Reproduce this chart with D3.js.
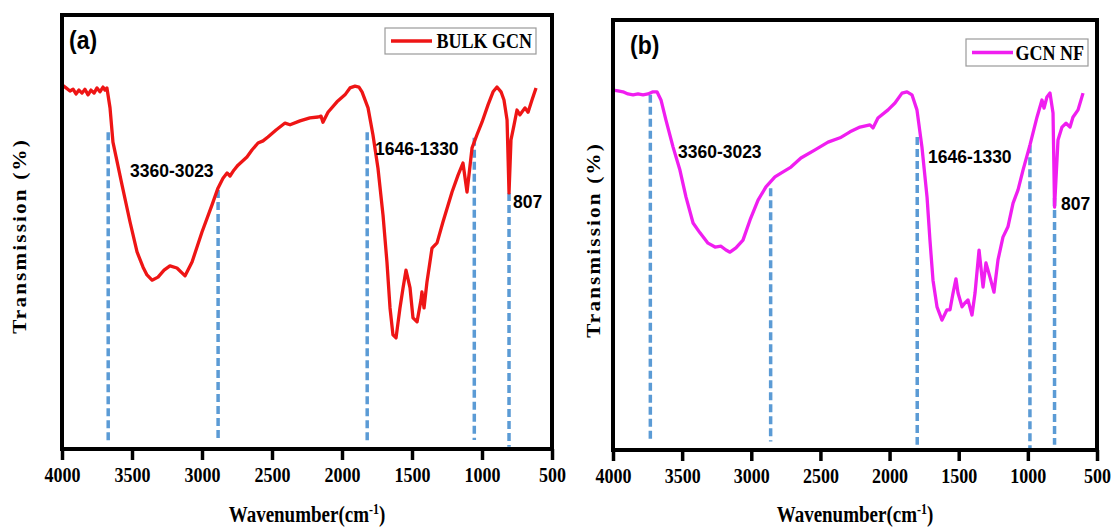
<!DOCTYPE html>
<html>
<head>
<meta charset="utf-8">
<script src="https://cdn.jsdelivr.net/npm/d3@7"></script>
<style>
  html, body { margin: 0; padding: 0; background: #fff; }
  svg { display: block; }
</style>
</head>
<body>
<svg id="chart" width="1111" height="530"></svg>
<script>
// FTIR spectra: wavenumber (cm^-1) vs. transmission (arbitrary %, no scale shown)
const xTicks = [4000, 3500, 3000, 2500, 2000, 1500, 1000, 500];

// Panel (a): bulk g-C3N4
const bulkWavenumber = [
  4000, 3971, 3943, 3921, 3900, 3879, 3857, 3836, 3814, 3793, 3771, 3750, 3729, 3707, 3693, 3679,
  3657, 3636, 3571, 3514, 3464, 3421, 3393, 3357, 3314, 3271, 3229, 3179, 3121, 3071, 3000, 2929,
  2886, 2850, 2821, 2800, 2771, 2743, 2679, 2643, 2600, 2564, 2529, 2471, 2407, 2371, 2300, 2229,
  2171, 2150, 2136, 2100, 2036, 1979, 1943, 1907, 1879, 1857, 1814, 1779, 1743, 1707, 1679, 1657,
  1636, 1614, 1586, 1564, 1543, 1514, 1493, 1464, 1436, 1429, 1414, 1393, 1357, 1321, 1279, 1214,
  1171, 1136, 1107, 1071, 1036, 1000, 957, 921, 893, 864, 843, 821, 807, 793, 771, 750, 729, 693,
  671, 643, 614
];
const bulkTransmission = [
  83.9, 83.2, 82.5, 82.9, 81.8, 82.7, 82.0, 82.9, 81.6, 82.7, 82.0, 83.2, 82.3, 83.4, 82.7, 83.2,
  78.6, 70.7, 60.8, 52.3, 45.4, 41.9, 40.1, 38.9, 39.6, 41.2, 42.2, 41.7, 39.9, 43.1, 50.0, 56.2,
  60.1, 62.4, 63.6, 62.9, 64.3, 65.4, 67.3, 68.9, 70.5, 71.0, 71.9, 73.5, 75.1, 74.7, 75.6, 76.3,
  76.5, 76.7, 75.3, 77.6, 80.0, 81.6, 83.2, 83.6, 83.4, 82.3, 78.6, 72.4, 64.7, 53.9, 43.1, 32.5,
  26.3, 25.6, 32.5, 37.1, 41.2, 37.1, 30.2, 29.3, 34.3, 36.2, 32.5, 38.5, 46.3, 47.5, 52.3, 59.2,
  63.1, 65.9, 59.2, 69.4, 72.4, 75.3, 79.3, 82.3, 83.4, 82.3, 80.4, 75.8, 59.0, 71.2, 74.7, 78.1, 77.0, 78.6,
  77.6, 80.4, 83.2
];
const bulkMarkerWavenumber = [3670, 2885, 1820, 1055, 807];
const bulkMarkerTop = [73.0, 59.7, 73.0, 71.7, 59.0];
const bulkMarkerBottom = [1.7, 1.7, 1.7, 2.1, 0.5];

// Panel (b): g-C3N4 nanoflakes
const nfWavenumber = [
  4000, 3964, 3928, 3892, 3855, 3819, 3783, 3747, 3711, 3682, 3653, 3617, 3566, 3516, 3472, 3421,
  3371, 3313, 3262, 3219, 3183, 3154, 3111, 3060, 3009, 2951, 2894, 2829, 2785, 2713, 2641, 2539,
  2445, 2358, 2286, 2214, 2142, 2120, 2084, 2011, 1961, 1910, 1874, 1838, 1802, 1766, 1729, 1708,
  1686, 1657, 1621, 1585, 1563, 1541, 1520, 1505, 1476, 1455, 1433, 1404, 1382, 1353, 1324, 1303,
  1274, 1245, 1216, 1180, 1144, 1107, 1071, 1035, 985, 934, 898, 883, 862, 840, 818, 807, 782, 753,
  724, 695, 674, 637, 601
];
const nfTransmission = [
  83.7, 83.5, 83.3, 82.8, 82.6, 82.8, 82.6, 82.8, 83.3, 83.3, 81.4, 76.7, 70.5, 65.1, 58.8, 52.8,
  50.5, 48.1, 47.2, 47.4, 46.5, 46.0, 47.0, 48.8, 53.5, 58.1, 61.2, 63.5, 64.4, 65.8, 67.9, 69.8,
  71.6, 72.6, 74.0, 75.1, 75.6, 74.9, 77.2, 79.1, 80.7, 83.0, 83.3, 82.6, 79.1, 70.5, 58.8, 48.8,
  39.5, 33.3, 30.2, 32.6, 32.6, 36.5, 39.8, 36.5, 33.3, 34.2, 34.9, 31.4, 36.5, 46.5, 37.9, 43.5,
  40.2, 36.7, 44.2, 49.5, 51.9, 57.4, 60.5, 65.1, 70.9, 77.4, 81.4, 79.5, 82.1, 83.0, 78.4, 56.5, 72.1, 75.1,
  76.0, 75.1, 77.4, 79.1, 83.0
];
const nfMarkerWavenumber = [3730, 2860, 1800, 985, 807];
const nfMarkerTop = [82.6, 60.9, 72.8, 70.9, 58.6];
const nfMarkerBottom = [2.3, 2.0, 1.2, 0, 1.2];

const bandLabels = ["3360-3023", "1646-1330", "807"];

const panels = [
  {
    tag: "(a)", name: "BULK GCN", color: "#ee1515",
    wn: bulkWavenumber, tr: bulkTransmission,
    mWn: bulkMarkerWavenumber, mTop: bulkMarkerTop, mBot: bulkMarkerBottom,
    box: { left: 62, right: 552, top: 15, bottom: 449 },
    tagPos: [69, 49],
    legend: { x: 385, y: 28, w: 151, h: 26 },
    labelPos: [[130, 177], [375, 155], [513, 208]],
    yTitleX: 20, yTitleY: 236
  },
  {
    tag: "(b)", name: "GCN NF", color: "#f01ef0",
    wn: nfWavenumber, tr: nfTransmission,
    mWn: nfMarkerWavenumber, mTop: nfMarkerTop, mBot: nfMarkerBottom,
    box: { left: 613, right: 1097, top: 20, bottom: 450 },
    tagPos: [630, 54],
    legend: { x: 966, y: 39, w: 122, h: 27 },
    labelPos: [[678, 158], [928, 163], [1061, 210]],
    yTitleX: 594, yTitleY: 240
  }
];

const svg = d3.select("#chart");
const serif = "'Liberation Serif', 'Times New Roman', Times, serif";
const sans = "'Liberation Sans', Arial, Helvetica, sans-serif";
const tall = 1.18; // glyphs are drawn slightly taller than wide

// text placed at (x, y) baseline and stretched vertically
function tallText(sel, xPos, yPos, k) {
  return sel.append("text")
    .attr("transform", `translate(${xPos},${yPos}) scale(1,${k})`);
}

panels.forEach(p => {
  const b = p.box;
  const x = d3.scaleLinear().domain([4000, 500]).range([b.left, b.right]);
  const y = d3.scaleLinear().domain([0, 100]).range([b.bottom, b.top]);
  const g = svg.append("g");

  // dashed band markers
  g.selectAll("line.marker")
    .data(p.mWn)
    .join("line")
    .attr("class", "marker")
    .attr("x1", d => x(d)).attr("x2", d => x(d))
    .attr("y1", (d, i) => y(p.mTop[i]))
    .attr("y2", (d, i) => y(p.mBot[i]))
    .attr("stroke", "#5b9bd5")
    .attr("stroke-width", 3.5)
    .attr("stroke-dasharray", "8,4");

  // spectrum
  const pts = p.wn.map((w, i) => [w, p.tr[i]]);
  g.append("path")
    .datum(pts)
    .attr("fill", "none")
    .attr("stroke", p.color)
    .attr("stroke-width", 3.3)
    .attr("stroke-linejoin", "round")
    .attr("d", d3.line().x(d => x(d[0])).y(d => y(d[1])));

  // frame
  g.append("rect")
    .attr("x", b.left).attr("y", b.top)
    .attr("width", b.right - b.left).attr("height", b.bottom - b.top)
    .attr("fill", "none").attr("stroke", "#000").attr("stroke-width", 4);

  // x axis
  const ax = g.append("g")
    .attr("transform", `translate(0,${b.bottom})`)
    .call(d3.axisBottom(x).tickValues(xTicks).tickSize(11).tickSizeOuter(0).tickFormat(d3.format("d")));
  ax.select(".domain").remove();
  ax.selectAll(".tick line").attr("stroke", "#000").attr("stroke-width", 3.5);
  ax.selectAll(".tick text")
    .attr("y", null).attr("dy", null)
    .attr("transform", `translate(0,33) scale(1,${tall})`)
    .attr("fill", "#000")
    .style("font-family", serif)
    .style("font-weight", "bold")
    .style("font-size", "18px");

  // x title
  const xt = tallText(g, (b.left + b.right) / 2, 522, tall)
    .attr("text-anchor", "middle")
    .style("font-family", serif).style("font-weight", "bold").style("font-size", "19px");
  xt.append("tspan").text("Wavenumber(cm");
  xt.append("tspan").attr("dy", -7).style("font-size", "12px").text("-1");
  xt.append("tspan").attr("dy", 7).text(")");

  // y title (rotated, so the stretch runs along its length)
  g.append("text")
    .attr("transform", `translate(${p.yTitleX + 6},${p.yTitleY}) rotate(-90) scale(${tall},1)`)
    .attr("text-anchor", "middle")
    .style("font-family", serif).style("font-weight", "bold").style("font-size", "18px")
    .style("letter-spacing", "1.8px")
    .text("Transmission (%)");

  // panel tag
  tallText(g, p.tagPos[0], p.tagPos[1], 1.1)
    .style("font-family", sans).style("font-weight", "bold").style("font-size", "23px")
    .text(p.tag);

  // band labels
  bandLabels.forEach((t, i) => {
    tallText(g, p.labelPos[i][0], p.labelPos[i][1], 1.1)
      .style("font-family", sans).style("font-weight", "bold").style("font-size", "17.5px")
      .text(t);
  });

  // legend
  const L = p.legend;
  const lg = g.append("g");
  lg.append("rect")
    .attr("x", L.x).attr("y", L.y).attr("width", L.w).attr("height", L.h)
    .attr("fill", "#fff").attr("stroke", "#9a9a9a").attr("stroke-width", 1.2);
  lg.append("line")
    .attr("x1", L.x + 6).attr("x2", L.x + 47)
    .attr("y1", L.y + L.h / 2).attr("y2", L.y + L.h / 2)
    .attr("stroke", p.color).attr("stroke-width", 3.5);
  tallText(lg, L.x + L.w - 4, L.y + L.h / 2 + 7, tall)
    .attr("text-anchor", "end")
    .style("font-family", serif).style("font-weight", "bold").style("font-size", "18px")
    .text(p.name);
});
</script>
</body>
</html>
